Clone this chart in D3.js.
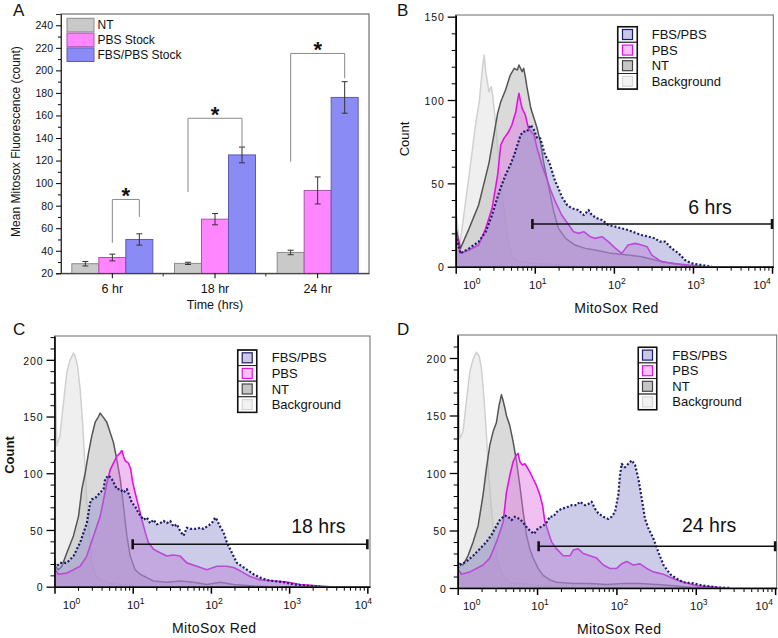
<!DOCTYPE html>
<html>
<head>
<meta charset="utf-8">
<script src="https://cdn.jsdelivr.net/npm/d3@7"></script>
<style>
  body { margin: 0; background: #fff; }
  svg text { font-family: "Liberation Sans", Arial, sans-serif; fill: #111; }
</style>
</head>
<body>
<script>
const width = 778;
const height = 638;

// ---- panel A: mean fluorescence bars ----
const times = ["6 hr", "18 hr", "24 hr"];
const groups = ["NT", "PBS Stock", "FBS/PBS Stock"];
const meanNT = [28.5, 28.8, 38.5];
const meanPBS = [34, 68, 93.5];
const meanFBS = [50, 125, 176];
const errNT = [2, 1, 2];
const errPBS = [3, 5, 12];
const errFBS = [5, 7, 14];
const yTicksA = d3.range(20, 241, 20);
// [time index, from group, to group, top, left leg end, right leg end]
const brackets = [
  [0, 1, 2, 85.5, 47, 70],
  [1, 0, 2, 157.5, 92, 132],
  [2, 0, 2, 215, 119, 193]
];

// ---- histograms: [log10 MitoSox Red, count] ----
const bg6 = [[0,35],[0.05,12],[0.1,30],[0.17,55],[0.25,85],[0.3,100],[0.34,120],[0.36,127],[0.38,117],[0.42,105],[0.45,108],[0.47,102],[0.5,88],[0.55,62],[0.59,42],[0.63,27],[0.67,14],[0.71,7],[0.75,4],[0.85,3],[1.0,2],[1.3,1],[1.6,0]];
const nt6 = [[0,24],[0.06,11],[0.17,23],[0.29,37],[0.42,62],[0.53,92],[0.57,99],[0.63,106],[0.69,115],[0.74,119],[0.78,118],[0.8,121],[0.84,117],[0.86,119],[0.88,114],[0.9,108],[0.95,95],[0.99,89],[1.03,83],[1.07,75],[1.11,63],[1.18,47],[1.24,33],[1.3,23],[1.39,17],[1.51,13],[1.64,11],[1.76,10],[1.97,8],[2.18,7],[2.35,6],[2.52,4],[2.73,2],[2.94,0.5],[3.03,0]];
const pbs6 = [[0,23],[0.06,8],[0.17,10],[0.29,13],[0.38,23],[0.46,35],[0.53,55],[0.57,73],[0.61,77],[0.67,81],[0.71,85],[0.76,93],[0.78,99],[0.8,104],[0.82,99],[0.84,95],[0.88,91],[0.92,83],[0.99,79],[1.03,71],[1.09,61],[1.15,53],[1.2,46],[1.26,39],[1.34,31],[1.43,25],[1.49,21],[1.55,20],[1.62,21],[1.7,18],[1.76,17],[1.85,18],[1.93,15],[2.02,11],[2.1,8],[2.18,13],[2.27,14],[2.35,13],[2.42,12],[2.48,7],[2.6,3],[2.75,2],[2.94,1],[3.15,0]];
const fbs6 = [[0,19],[0.06,8],[0.17,11],[0.29,15],[0.38,21],[0.46,31],[0.55,45],[0.63,55],[0.69,61],[0.74,67],[0.78,73],[0.82,79],[0.86,81],[0.9,81],[0.95,85],[0.99,82],[1.03,77],[1.07,77],[1.13,67],[1.18,63],[1.22,57],[1.26,51],[1.3,47],[1.34,42],[1.41,37],[1.47,35],[1.55,34],[1.62,31],[1.68,34],[1.72,31],[1.79,29],[1.85,28],[1.93,25],[2.02,24],[2.1,23],[2.18,22],[2.29,20],[2.35,19],[2.44,18],[2.52,17],[2.58,15],[2.65,15],[2.73,11],[2.82,8],[2.9,4],[2.98,2],[3.11,1],[3.24,0]];

const bg18 = [[0,215],[0.03,124],[0.07,133],[0.115,162],[0.158,189],[0.2,200],[0.243,206],[0.264,203],[0.294,195],[0.328,174],[0.362,142],[0.392,103],[0.413,74],[0.448,45],[0.477,21],[0.52,11],[0.584,6],[0.669,4],[0.84,2],[1.05,0.6],[1.27,0]];
const nt18 = [[0,25],[0.01,18],[0.05,15],[0.094,18],[0.158,30],[0.243,45],[0.307,62],[0.35,86],[0.392,100],[0.435,118],[0.477,133],[0.52,145],[0.563,150],[0.584,153],[0.627,149],[0.669,145],[0.712,136],[0.754,127],[0.797,112],[0.84,95],[0.882,71],[0.925,45],[0.968,27],[1.03,15],[1.095,11],[1.18,8],[1.266,5],[1.437,4],[1.607,5],[1.778,4],[1.948,2],[2.12,4],[2.29,2],[2.545,0.6],[2.76,0]];
const pbs18 = [[0,20],[0.01,15],[0.05,11],[0.158,12],[0.243,15],[0.328,18],[0.413,27],[0.5,45],[0.584,62],[0.669,91],[0.712,103],[0.754,109],[0.797,115],[0.84,118],[0.861,120],[0.882,115],[0.904,111],[0.946,109],[0.976,103],[1.0,92],[1.03,83],[1.074,71],[1.117,59],[1.16,48],[1.2,39],[1.266,33],[1.35,30],[1.437,27],[1.52,28],[1.607,27],[1.692,21],[1.82,18],[1.948,15],[2.076,18],[2.2,18],[2.29,17],[2.374,14],[2.5,9],[2.63,6],[2.8,5],[2.97,4],[3.14,2],[3.31,1],[3.525,0]];
const fbs18 = [[0,20],[0.03,18],[0.072,21],[0.158,21],[0.243,27],[0.328,39],[0.413,56],[0.456,74],[0.477,77],[0.52,78],[0.584,83],[0.627,86],[0.648,95],[0.69,98],[0.733,95],[0.776,89],[0.797,86],[0.84,86],[0.882,83],[0.925,86],[0.959,80],[0.989,74],[1.03,71],[1.074,65],[1.117,61],[1.138,59],[1.18,61],[1.223,56],[1.266,59],[1.309,55],[1.351,56],[1.394,58],[1.436,56],[1.479,58],[1.522,53],[1.564,55],[1.607,49],[1.65,45],[1.692,52],[1.735,51],[1.777,51],[1.82,51],[1.863,52],[1.905,51],[1.948,53],[2.012,56],[2.055,61],[2.076,59],[2.118,53],[2.161,48],[2.204,39],[2.268,30],[2.332,21],[2.396,18],[2.46,15],[2.545,11],[2.63,8],[2.715,6],[2.8,5],[2.928,4],[3.056,2],[3.227,1],[3.397,0]];

const bg24 = [[0,211],[0.025,130],[0.067,136],[0.109,162],[0.152,188],[0.194,199],[0.236,205],[0.269,202],[0.299,191],[0.328,168],[0.362,133],[0.391,98],[0.425,69],[0.455,46],[0.488,28],[0.53,17],[0.572,10],[0.657,5],[0.825,4],[1.035,2],[1.246,1],[1.456,0]];
const nt24 = [[0,22],[0.067,20],[0.13,28],[0.194,40],[0.257,54],[0.32,81],[0.362,104],[0.404,124],[0.446,136],[0.488,144],[0.522,159],[0.551,168],[0.572,163],[0.593,157],[0.614,150],[0.657,141],[0.699,127],[0.741,110],[0.783,89],[0.825,66],[0.867,46],[0.909,34],[0.951,26],[1.014,17],[1.077,11],[1.162,7],[1.246,5],[1.456,4],[1.667,4],[1.877,3],[2.088,4],[2.298,4],[2.508,3],[2.719,2],[2.929,0.6],[3.14,0]];
const pbs24 = [[0,17],[0.046,12],[0.152,14],[0.236,17],[0.32,20],[0.404,26],[0.488,40],[0.572,57],[0.614,83],[0.657,98],[0.699,110],[0.732,115],[0.762,117],[0.783,110],[0.816,107],[0.846,108],[0.875,105],[0.909,101],[0.951,95],[0.993,89],[1.035,81],[1.069,72],[1.098,58],[1.141,49],[1.183,40],[1.246,34],[1.33,28],[1.414,28],[1.456,33],[1.519,34],[1.582,30],[1.667,28],[1.751,26],[1.835,20],[1.919,17],[2.003,17],[2.066,21],[2.13,23],[2.214,20],[2.298,21],[2.382,17],[2.466,14],[2.593,12],[2.719,8],[2.845,5],[3.014,2],[3.182,1],[3.35,0]];
const fbs24 = [[0,17],[0.025,20],[0.109,23],[0.194,28],[0.278,34],[0.362,40],[0.425,46],[0.488,54],[0.53,59],[0.593,63],[0.635,62],[0.678,59],[0.72,62],[0.783,60],[0.825,57],[0.867,53],[0.909,50],[0.96,47],[1.014,52],[1.077,54],[1.12,57],[1.162,62],[1.204,62],[1.246,66],[1.309,69],[1.372,70],[1.435,72],[1.498,72],[1.54,75],[1.604,72],[1.646,73],[1.688,75],[1.73,69],[1.772,65],[1.835,62],[1.898,60],[1.94,62],[1.982,66],[2.024,81],[2.045,98],[2.066,108],[2.108,105],[2.15,108],[2.193,111],[2.235,107],[2.277,95],[2.319,78],[2.361,60],[2.403,52],[2.466,43],[2.53,31],[2.593,20],[2.677,12],[2.761,8],[2.845,5],[2.971,4],[3.098,2],[3.266,0.6],[3.434,0]];

// gates: [log10 start, log10 end, count]
const gate6 = [0.97, 4.0, 25.6];
const gate18 = [1.0, 4.0, 37.4];
const gate24 = [1.02, 4.0, 36.3];

const decades = [1, 10, 100, 1000, 10000];
const seriesNames = ["FBS/PBS", "PBS", "NT", "Background"];

const svg = d3.select("body").append("svg")
    .attr("width", width)
    .attr("height", height);

// ================= Panel A =================
const xA = d3.scaleBand().domain(times).range([61, 369]).paddingInner(0.211).paddingOuter(0.1055);
const xS = d3.scaleBand().domain(groups).range([0, xA.bandwidth()]);
const yA = d3.scaleLinear().domain([20, 250]).range([273.3, 14]);

const barFill = ["#c9c9c9", "#ff86ff", "#8b8bf6"];
const barStroke = ["#8c8c8c", "#a855a8", "#5c5cae"];
const means = [meanNT, meanPBS, meanFBS];
const errs = [errNT, errPBS, errFBS];

const gA = svg.append("g");

gA.append("rect")
    .attr("x", 61).attr("y", 14)
    .attr("width", 308).attr("height", 273.3 - 14)
    .attr("fill", "none").attr("stroke", "#555").attr("stroke-width", 1);

const barData = [];
times.forEach((t, i) => groups.forEach((s, j) => barData.push({ t, s, i, j, v: means[j][i], e: errs[j][i] })));

gA.selectAll(".bar")
    .data(barData)
    .enter().append("rect")
    .attr("class", "bar")
    .attr("x", d => xA(d.t) + xS(d.s))
    .attr("y", d => yA(d.v))
    .attr("width", xS.bandwidth())
    .attr("height", d => yA(20) - yA(d.v))
    .attr("fill", d => barFill[d.j])
    .attr("stroke", d => barStroke[d.j])
    .attr("stroke-width", 1);

// error bars
const eb = gA.selectAll(".err").data(barData).enter().append("g").attr("class", "err")
    .attr("stroke", "#333").attr("stroke-width", 1);
const cx = d => xA(d.t) + xS(d.s) + xS.bandwidth() / 2;
eb.append("line").attr("x1", cx).attr("x2", cx).attr("y1", d => yA(d.v - d.e)).attr("y2", d => yA(d.v + d.e));
eb.append("line").attr("x1", d => cx(d) - 3).attr("x2", d => cx(d) + 3).attr("y1", d => yA(d.v + d.e)).attr("y2", d => yA(d.v + d.e));
eb.append("line").attr("x1", d => cx(d) - 3).attr("x2", d => cx(d) + 3).attr("y1", d => yA(d.v - d.e)).attr("y2", d => yA(d.v - d.e));

// significance brackets
brackets.forEach(b => {
    const t = times[b[0]];
    const xl = xA(t) + xS(groups[b[1]]) + xS.bandwidth() / 2;
    const xr = xA(t) + xS(groups[b[2]]) + xS.bandwidth() / 2;
    gA.append("path")
        .attr("d", `M${xl},${yA(b[4])}V${yA(b[3])}H${xr}V${yA(b[5])}`)
        .attr("fill", "none").attr("stroke", "#8a8a8a").attr("stroke-width", 1);
    gA.append("text")
        .attr("x", (xl + xr) / 2).attr("y", yA(b[3]) + 4)
        .attr("text-anchor", "middle").attr("font-size", 22).attr("font-weight", "bold")
        .text("*");
});

// y axis A
const yAxA = gA.append("g").attr("transform", "translate(61,0)")
    .call(d3.axisLeft(yA).tickValues(yTicksA).tickSize(5).tickPadding(3));
yAxA.select(".domain").attr("stroke", "#333");
yAxA.selectAll("text").attr("font-size", 10.5).attr("font-family", "Liberation Sans, Arial");
gA.append("g").attr("transform", "translate(61,0)")
    .call(d3.axisLeft(yA).tickValues(d3.range(30, 250, 20)).tickSize(3).tickFormat(""))
    .select(".domain").remove();

// x axis A
const xAxA = gA.append("g").attr("transform", "translate(0,273.3)")
    .call(d3.axisBottom(xA).tickSize(5).tickPadding(6).tickSizeOuter(0));
xAxA.select(".domain").attr("stroke", "#333");
xAxA.selectAll("text").attr("font-size", 12.5).attr("font-family", "Liberation Sans, Arial");
gA.selectAll(".minorx").data(times.slice(1)).enter().append("line")
    .attr("x1", d => xA(d) - xA.step() * 0.211 / 2 - 0.5)
    .attr("x2", d => xA(d) - xA.step() * 0.211 / 2 - 0.5)
    .attr("y1", 273.3).attr("y2", 276.5).attr("stroke", "#333");

gA.append("text").attr("x", 215).attr("y", 309).attr("text-anchor", "middle")
    .attr("font-size", 12.5).text("Time (hrs)");
gA.append("text").attr("transform", "translate(20,141.5) rotate(-90)")
    .attr("text-anchor", "middle").attr("font-size", 12).text("Mean Mitosox Fluorescence (count)");

// legend A
groups.forEach((s, j) => {
    gA.append("rect").attr("x", 67).attr("y", 18.3 + j * 14.8).attr("width", 27).attr("height", 13.6)
        .attr("fill", barFill[j]).attr("stroke", barStroke[j]);
    gA.append("text").attr("x", 97.5).attr("y", 29 + j * 15.2).attr("font-size", 12).text(s);
});

gA.append("text").attr("x", 13).attr("y", 16).attr("font-size", 17).text("A");

// ================= Histogram panels =================
const styles = [
    { fill: "#efefef", op: 1, stroke: "#d0d0d0", sw: 1.5, dash: null },
    { fill: "#c2c2c2", op: 0.6, stroke: "#555", sw: 1.5, dash: null },
    { fill: "#e070e0", op: 0.45, stroke: "#e014e0", sw: 1.6, dash: null },
    { fill: "#8f8fcc", op: 0.45, stroke: "#1c1c6a", sw: 2.2, dash: "2,2" }
];
const legendSw = [
    { fill: "#c9c9e6", stroke: "#1c1c6a" },
    { fill: "#f9c3f9", stroke: "#e014e0" },
    { fill: "#c6c6c6", stroke: "#444" },
    { fill: "#f2f2f2", stroke: "#d6d6d6" }
];

const panels = [
    { letter: "B", lx: 397, ly: 16, series: [bg6, nt6, pbs6, fbs6], gate: gate6, label: "6 hrs",
      x0: 455.7, x1: 773.3, y0: 15, y1: 266.7, xMax: 10 ** 4.016, yTop: 151, yMaj: [0, 50, 100, 150],
      leg: [617.7, 26.7, 19.6], count: [404, 139, "normal"], labDx: -62, labDy: -10, labOff: [16, 3, 3, 3, -10] },
    { letter: "C", lx: 13, ly: 335, series: [bg18, nt18, pbs18, fbs18], gate: gate18, label: "18 hrs",
      x0: 54.5, x1: 370, y0: 336, y1: 586.7, xMax: 10 ** 4.034, yTop: 221, yMaj: [0, 50, 100, 150, 200],
      leg: [237.7, 350, 19], count: [9, 455, "bold"], labDx: -49, labDy: -11, labOff: [17, 3, 3, 3, -4] },
    { letter: "D", lx: 397, ly: 335, series: [bg24, nt24, pbs24, fbs24], gate: gate24, label: "24 hrs",
      x0: 457.7, x1: 776.7, y0: 335, y1: 588, xMax: 10 ** 4.02, yTop: 220, yMaj: [0, 50, 100, 150, 200],
      leg: [638.3, 347.3, 18.4], count: null, labDx: -66, labDy: -14, labOff: [14, 3, 3, 3, -11] }
];

panels.forEach((cfg, pi) => {
    const g = svg.append("g");
    const x = d3.scaleLog().domain([1, cfg.xMax]).range([cfg.x0, cfg.x1]);
    const y = d3.scaleLinear().domain([0, cfg.yTop]).range([cfg.y1, cfg.y0]);

    g.append("clipPath").attr("id", "clip" + pi).append("rect")
        .attr("x", cfg.x0).attr("y", cfg.y0).attr("width", cfg.x1 - cfg.x0).attr("height", cfg.y1 - cfg.y0);

    const plot = g.append("g").attr("clip-path", `url(#clip${pi})`);
    const area = d3.area().x(d => x(10 ** d[0])).y0(y(0)).y1(d => y(d[1]));
    const line = d3.line().x(d => x(10 ** d[0])).y(d => y(d[1]));

    cfg.series.forEach((data, k) => {
        const s = styles[k];
        plot.append("path").datum(data).attr("d", area)
            .attr("fill", s.fill).attr("fill-opacity", s.op).attr("stroke", "none");
        plot.append("path").datum(data).attr("d", line)
            .attr("fill", "none").attr("stroke", s.stroke).attr("stroke-width", s.sw)
            .attr("stroke-dasharray", s.dash).attr("stroke-linejoin", "round");
    });

    // frame
    g.append("rect").attr("x", cfg.x0).attr("y", cfg.y0)
        .attr("width", cfg.x1 - cfg.x0).attr("height", cfg.y1 - cfg.y0)
        .attr("fill", "none").attr("stroke", "#6a6a6a").attr("stroke-width", 1);

    // y axis
    const ya = g.append("g").attr("transform", `translate(${cfg.x0},0)`)
        .call(d3.axisLeft(y).tickValues(cfg.yMaj).tickSize(8).tickPadding(3).tickSizeOuter(0));
    ya.select(".domain").attr("stroke", "#000").attr("stroke-width", 1.6);
    ya.selectAll(".tick line").attr("stroke-width", 1.3);
    ya.selectAll("text").attr("font-size", 10.5).attr("letter-spacing", 0.9)
        .attr("font-family", "Liberation Sans, Arial").attr("dy", "0.4em");
    g.append("g").attr("transform", `translate(${cfg.x0},0)`)
        .call(d3.axisLeft(y).tickValues(d3.range(10, cfg.yTop, 10).filter(v => v % 50)).tickSize(4).tickFormat(""))
        .select(".domain").remove();

    // x axis
    const xa = g.append("g").attr("transform", `translate(0,${cfg.y1})`)
        .call(d3.axisBottom(x).tickValues(decades).tickSize(7).tickFormat("").tickSizeOuter(0));
    xa.select(".domain").attr("stroke", "#000").attr("stroke-width", 1.6);
    xa.selectAll(".tick line").attr("stroke-width", 1.5);
    const minors = [];
    decades.slice(0, 4).forEach(dv => d3.range(2, 10).forEach(k => minors.push(dv * k)));
    g.append("g").attr("transform", `translate(0,${cfg.y1})`)
        .call(d3.axisBottom(x).tickValues(minors).tickSize(4).tickFormat(""))
        .select(".domain").remove();

    decades.forEach((v, i) => {
        const t = g.append("text").attr("x", x(v) + cfg.labOff[i]).attr("y", cfg.y1 + 22)
            .attr("text-anchor", "middle").attr("font-size", 11.5);
        t.append("tspan").text("10");
        t.append("tspan").attr("dy", -5).attr("font-size", 8.5).text(i);
    });

    g.append("text").attr("x", (cfg.x0 + cfg.x1) / 2 + 2).attr("y", cfg.y1 + 46)
        .attr("text-anchor", "middle").attr("font-size", 14).attr("letter-spacing", 0.4)
        .text("MitoSox Red");

    if (cfg.count) {
        g.append("text").attr("transform", `translate(${cfg.count[0]},${cfg.count[1]}) rotate(-90)`)
            .attr("text-anchor", "middle").attr("dy", "0.35em").attr("font-size", 13)
            .attr("font-weight", cfg.count[2]).text("Count");
    }

    // gate
    const gx1 = x(10 ** cfg.gate[0]), gx2 = x(10 ** cfg.gate[1]), gy = y(cfg.gate[2]);
    g.append("line").attr("x1", gx1).attr("x2", gx2).attr("y1", gy).attr("y2", gy)
        .attr("stroke", "#111").attr("stroke-width", 1.6);
    [gx1, gx2].forEach(v => g.append("line").attr("x1", v).attr("x2", v)
        .attr("y1", gy - 5).attr("y2", gy + 5).attr("stroke", "#111").attr("stroke-width", 2.6));
    g.append("text").attr("x", gx2 + cfg.labDx).attr("y", gy + cfg.labDy)
        .attr("text-anchor", "middle").attr("font-size", 19.5).text(cfg.label);

    // legend
    const [lx, ly, lw] = cfg.leg;
    const rh = 15.6;
    seriesNames.forEach((name, k) => {
        g.append("rect").attr("x", lx).attr("y", ly + k * rh).attr("width", lw).attr("height", rh)
            .attr("fill", "#fff").attr("stroke", "#222").attr("stroke-width", 1);
        g.append("rect").attr("x", lx + lw / 2 - 5).attr("y", ly + k * rh + rh / 2 - 5)
            .attr("width", 10).attr("height", 10)
            .attr("fill", legendSw[k].fill).attr("stroke", legendSw[k].stroke).attr("stroke-width", 1.2);
        g.append("text").attr("x", lx + 34).attr("y", ly + k * rh + rh / 2 + 4.5)
            .attr("font-size", 13).text(name);
    });
    g.append("rect").attr("x", lx).attr("y", ly).attr("width", lw).attr("height", rh * 4)
        .attr("fill", "none").attr("stroke", "#111").attr("stroke-width", 1.5);

    g.append("text").attr("x", cfg.lx).attr("y", cfg.ly).attr("font-size", 17).text(cfg.letter);
});
</script>
</body>
</html>
